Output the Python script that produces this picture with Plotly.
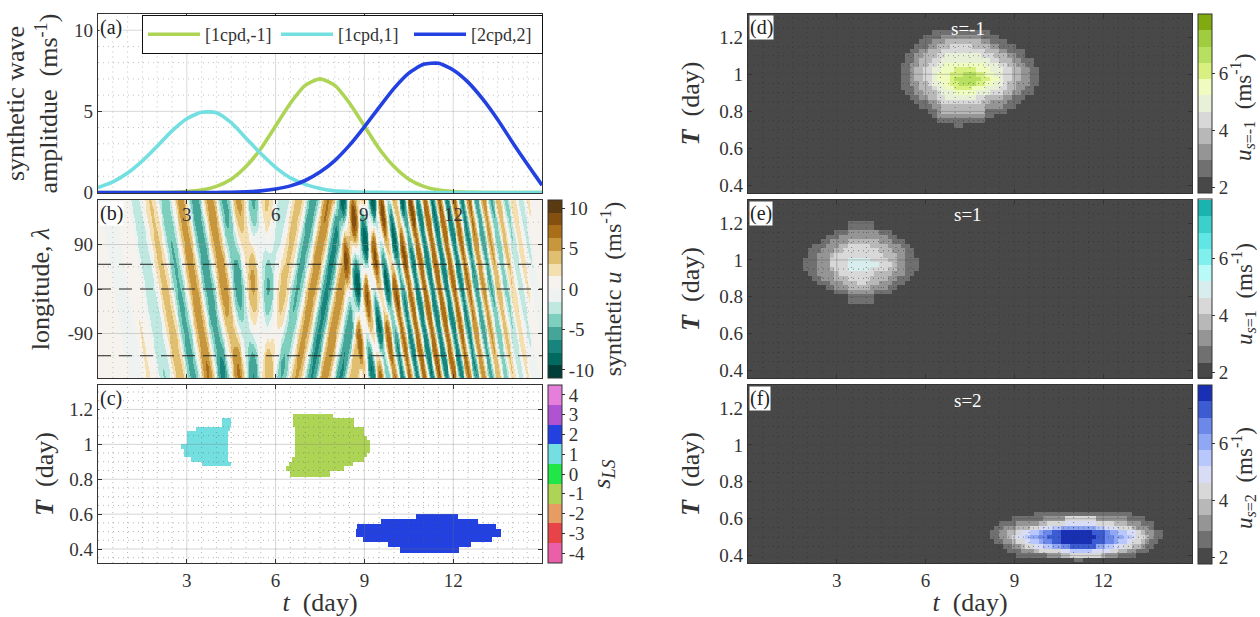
import numpy as np
import plotly.graph_objects as go

W, H = 1260, 617
SERIF = "Liberation Serif"

# ---------- panel (a): synthetic wave amplitude ----------
T_CYAN = [0, .5, 1, 1.5, 2, 2.5, 3, 3.5, 4, 4.5, 5, 5.5, 6, 6.5, 7, 7.5, 8, 8.5, 9, 10, 12, 15]
A_CYAN = [.3, .65, 1.2, 1.95, 2.85, 3.8, 4.55, 4.95, 4.92, 4.3, 3.35, 2.4, 1.55, .9, .5, .25, .1, .05, .02, 0, 0, 0]
T_GREEN = [0, 2.5, 3, 3.5, 4, 4.5, 5, 5.5, 6, 6.5, 7, 7.5, 8, 8.5, 9, 9.5, 10, 10.5, 11, 11.5, 12, 12.5, 13, 15]
A_GREEN = [0, .02, .06, .15, .38, .82, 1.6, 2.7, 4.1, 5.5, 6.6, 7, 6.6, 5.5, 4.1, 2.7, 1.6, .82, .38, .15, .06, .02, 0, 0]
T_BLUE = [0, 4, 4.5, 5, 5.5, 6, 6.5, 7, 7.5, 8, 8.5, 9, 9.5, 10, 10.5, 11, 11.5, 12, 12.5, 13, 13.5, 14, 14.5, 15]
A_BLUE = [0, 0, .02, .05, .1, .22, .41, .74, 1.26, 1.97, 2.92, 4.05, 5.25, 6.42, 7.36, 7.9, 7.96, 7.55, 6.8, 5.75, 4.5, 3.1, 1.75, .45]

# ---------- panel (b): stripes read as (t at lon=+180, t at lon=-180, amp there, amp there) ----------
BROWN_1 = [(-.27, .74, .8, 1), (.8, 1.7, 1.3, 1.7), (1.76, 2.77, 3.2, 4.3), (2.79, 3.73, 5.5, 6),
           (3.78, 4.76, 6, 5), (4.76, 5.75, 4.5, 2), (5.7, 6.7, 1.5, 0)]
TEAL_1 = [(.29, 1.3, 1, 1.3), (1.27, 2.26, 2.2, 3.2), (2.26, 3.22, 4.5, 5.5), (3.28, 4.23, 6, 6),
          (4.27, 5.25, 5.5, 3.8), (5.25, 6.24, 3.5, .8)]
BROWN_2 = [(4.74, 3.73, 1, .5), (5.7, 4.74, 2, 1.5), (6.77, 5.75, 4, 2.5), (7.78, 6.71, 6.5, 5),
           (8.74, 7.67, 6, 6), (9.7, 8.63, 3.5, 4.5), (10.65, 9.64, 1.5, 2)]
TEAL_2 = [(5.25, 4.23, 1.5, 1), (6.26, 5.25, 3, 2.5), (7.27, 6.2, 6, 4), (8.25, 7.22, 7, 6.5),
          (9.25, 8.2, 5, 6.5), (10.2, 9.19, 2.5, 3.5)]
BROWN_3 = [(8.04, 9.04, 1.85, 4.05), (8.54, 9.54, 2.9, 5.25),
           (9.04, 10.04, 4.05, 6.35), (9.54, 10.54, 5.25, 7.2), (10.03, 11.03, 6.35, 7.85), (10.54, 11.54, 7.2, 7.95),
           (11.04, 12.04, 7.85, 7.55), (11.53, 12.53, 7.95, 6.8), (12.03, 13.03, 7.55, 5.7), (12.53, 13.53, 6.8, 4.45),
           (13.03, 14.03, 5.7, 3.1), (13.52, 14.52, 4.45, 1.75), (14.02, 15.02, 3.1, .45), (14.53, 15.53, 1.75, 0)]
TEAL_3 = [(8.29, 9.29, 2.3, 4.6), (8.79, 9.79, 3.5, 5.8),
          (9.29, 10.29, 4.6, 6.8), (9.79, 10.79, 5.8, 7.5), (10.29, 11.29, 6.8, 8), (10.79, 11.79, 7.5, 7.8),
          (11.29, 12.29, 8, 7.2), (11.79, 12.79, 7.8, 6.3), (12.29, 13.29, 7.2, 5.1), (12.79, 13.79, 6.3, 3.8),
          (13.29, 14.29, 5.1, 2.4), (13.79, 14.79, 3.8, 1.1), (14.29, 15.29, 2.4, .2)]
DASHED_LON = [50, 0, -135]

# ---------- panel (c): blocks as (T top, T bottom, t start, t end) ----------
C_CYAN = [(1.15, 1.1, 4.2, 4.5), (1.1, 1.075, 3.3, 4.45), (1.075, 1.0, 3.0, 4.4), (1.0, .975, 2.8, 4.4),
          (.975, .925, 2.9, 4.4), (.925, .9, 3.15, 4.4), (.9, .875, 3.5, 4.5)]
C_GREEN = [(1.176, 1.15, 6.58, 7.95), (1.15, 1.1, 6.58, 8.63), (1.1, 1.05, 6.63, 9.0), (1.05, 1.025, 6.63, 9.1),
           (1.025, 1.0, 6.63, 9.2), (1.0, .975, 6.65, 9.22), (.975, .95, 6.65, 9.2), (.95, .925, 6.65, 9.08),
           (.925, .9, 6.55, 9.0), (.9, .875, 6.43, 8.6), (.875, .85, 6.33, 8.3), (.85, .815, 6.5, 7.85)]
C_BLUE = [(.60, .57, 10.75, 12.15), (.57, .545, 9.56, 12.83), (.545, .515, 8.75, 13.45), (.515, .47, 8.7, 13.6),
          (.47, .44, 8.95, 13.3), (.44, .41, 9.8, 12.6), (.41, .38, 10.2, 12.2)]
S_TICKS = [-4, -3, -2, -1, 0, 1, 2, 3, 4]

# ---------- panels (d,e,f): band index -> rows (T, t start, t end) ----------
D_BANDS = {
 1: [(1.225,6.3,8.1),(1.2,6.0,8.4),(1.175,5.85,8.7),(1.15,5.7,9.0),(1.125,5.55,9.3),(1.1,5.4,9.3),(1.075,5.4,9.6),
     (1.05,5.25,9.6),(1.025,5.25,9.75),(1.0,5.25,9.75),(.975,5.25,9.75),(.95,5.25,9.75),(.925,5.25,9.6),(.9,5.4,9.6),
     (.875,5.55,9.3),(.85,5.7,9.15),(.825,5.85,9.0),(.8,6.15,8.7),(.775,6.3,8.25),(.75,6.45,7.95),(.725,7.05,7.2)],
 2: [(1.2,6.6,7.8),(1.175,6.3,8.1),(1.15,6.15,8.4),(1.125,5.85,8.7),(1.1,5.7,9.0),(1.075,5.7,9.15),(1.05,5.55,9.3),
     (1.025,5.55,9.45),(1.0,5.55,9.45),(.975,5.55,9.45),(.95,5.55,9.45),(.925,5.7,9.3),(.9,5.7,9.15),(.875,5.85,8.85),
     (.85,6.15,8.7),(.825,6.3,8.55),(.8,6.45,7.95),(.775,6.45,7.95)],
 3: [(1.175,6.75,7.8),(1.15,6.45,8.1),(1.125,6.15,8.4),(1.1,6.0,8.7),(1.075,5.85,8.85),(1.05,5.85,9.0),(1.025,5.7,9.15),
     (1.0,5.7,9.15),(.975,5.7,9.15),(.95,5.85,9.0),(.925,5.85,9.0),(.9,6.0,8.85),(.875,6.15,8.55),(.85,6.45,8.1),
     (.825,6.6,7.95),(.8,6.6,7.95)],
 4: [(1.15,6.9,7.5),(1.125,6.6,7.95),(1.1,6.45,8.25),(1.075,6.3,8.4),(1.05,6.15,8.7),(1.025,6.0,8.85),(1.0,6.0,8.85),
     (.975,6.0,8.85),(.95,6.15,8.7),(.925,6.3,8.7),(.9,6.45,8.55),(.875,6.45,7.95),(.85,6.6,7.8)],
 5: [(1.1,6.75,7.8),(1.075,6.6,8.1),(1.05,6.45,8.4),(1.025,6.3,8.55),(1.0,6.3,8.55),(.975,6.3,8.55),(.95,6.3,8.55),
     (.925,6.45,8.4),(.9,6.6,8.1),(.875,6.75,7.65)],
 6: [(1.05,6.75,7.95),(1.025,6.6,8.1),(1.0,6.45,8.25),(.975,6.45,8.4),(.95,6.6,8.25),(.925,6.75,7.95),(.9,7.05,7.65)],
 7: [(1.025,7.05,7.65),(1.0,6.9,7.95),(.975,6.9,8.1),(.95,6.9,7.95),(.925,7.05,7.5)],
 8: [(1.0,7.35,7.65),(.975,7.05,7.8),(.95,7.2,7.65)],
}
E_BANDS = {
 1: [(1.2,3.45,4.2),(1.175,3.45,4.2),(1.15,3.0,4.75),(1.125,2.7,5.0),(1.1,2.55,5.25),(1.075,2.25,5.4),(1.05,2.1,5.55),
     (1.025,2.1,5.55),(1.0,1.95,5.7),(.975,1.95,5.7),(.95,1.95,5.7),(.925,2.1,5.55),(.9,2.25,5.4),(.875,2.4,5.25),
     (.85,2.7,4.95),(.825,3.0,4.8),(.8,3.45,4.2),(.775,3.45,4.2)],
 2: [(1.15,3.45,4.35),(1.125,3.1,4.65),(1.1,2.9,4.85),(1.075,2.65,5.1),(1.05,2.5,5.2),(1.025,2.4,5.25),(1.0,2.35,5.3),
     (.975,2.35,5.3),(.95,2.35,5.3),(.925,2.4,5.2),(.9,2.6,5.0),(.875,2.85,4.8),(.85,3.0,4.65),(.825,3.45,4.25)],
 3: [(1.1,3.45,4.3),(1.075,3.1,4.65),(1.05,2.95,4.8),(1.025,2.85,4.9),(1.0,2.8,4.95),(.975,2.8,4.95),(.95,2.8,4.95),
     (.925,2.95,4.85),(.9,3.05,4.65),(.875,3.3,4.4),(.85,3.45,4.1)],
 4: [(1.075,3.45,4.1),(1.05,3.3,4.3),(1.025,3.0,4.5),(1.0,2.9,4.7),(.975,2.9,4.8),(.95,2.95,4.65),(.925,3.15,4.25),
     (.9,3.45,4.1),(.875,3.7,3.95)],
 5: [(1.0,3.5,4.1),(.975,3.4,4.3),(.95,3.5,4.1)],
}
F_BANDS = {
 1: [(.625,9.7,12.85),(.6,8.95,13.4),(.575,8.6,13.6),(.55,8.45,13.7),(.525,8.3,13.9),(.5,8.3,13.9),(.475,8.45,13.75),
     (.45,8.7,13.65),(.425,8.9,13.5),(.4,9.15,13.05),(.375,11.05,11.2)],
 2: [(.6,10.0,12.8),(.575,9.1,13.2),(.55,8.75,13.45),(.525,8.6,13.6),(.5,8.55,13.65),(.475,8.7,13.55),(.45,8.95,13.4),
     (.425,9.3,13.0),(.4,10.2,12.4)],
 3: [(.575,9.9,12.7),(.55,9.2,13.1),(.525,8.85,13.4),(.5,8.8,13.5),(.475,8.95,13.35),(.45,9.25,13.15),(.425,9.7,12.7),
     (.4,10.7,12.0)],
 4: [(.6,10.8,11.7),(.575,10.15,12.35),(.55,9.55,12.9),(.525,9.1,13.2),(.5,9.0,13.3),(.475,9.2,13.15),(.45,9.5,12.95),
     (.425,9.9,12.5),(.4,11.0,11.9)],
 5: [(.575,10.8,11.7),(.55,9.9,12.45),(.525,9.35,13.0),(.5,9.2,13.1),(.475,9.4,12.95),(.45,9.8,12.6),(.425,10.6,12.15)],
 6: [(.55,10.3,12.0),(.525,9.6,12.7),(.5,9.4,12.85),(.475,9.6,12.7),(.45,10.1,12.3),(.425,10.9,11.6)],
 7: [(.55,10.6,11.7),(.525,9.85,12.45),(.5,9.65,12.6),(.475,9.85,12.45),(.45,10.4,12.0)],
 8: [(.525,10.1,12.2),(.5,9.85,12.35),(.475,10.05,12.25),(.45,10.6,11.75)],
 9: [(.525,10.35,12.0),(.5,10.2,12.05),(.475,10.3,12.0),(.45,10.9,11.7)],
 10: [(.525,10.6,11.6),(.5,10.6,11.65),(.475,10.65,11.6)],
}
BAND_LOW = 1.8
BAND_STEP = .57

# ---------- colours ----------
GREYS = ["#484848", "#707070", "#959595", "#b8b8b8", "#d8d8d8"]
D_COLORS = GREYS + ["#e8f0d8", "#f0fbc0", "#d8f080", "#b8e060", "#a0cc40", "#80aa10"]
E_COLORS = GREYS + ["#d8eeee", "#b8faf8", "#80f0ee", "#60e6e4", "#3cd0cc", "#1ab4b0"]
F_COLORS = GREYS + ["#d8dcf4", "#b8c8fc", "#90a8f4", "#6c88e8", "#3c5cd4", "#1a30b4"]
BRBG = ["#003f38", "#006a60", "#17857d", "#45a598", "#7fcfbf", "#bfe8e0", "#eef3f1",
        "#f6f3ee", "#f3dfb0", "#e0c070", "#c8963c", "#ab6e18", "#85500f", "#5a3a10"]
S_COLORS = ["#ea5fa8", "#e84448", "#e79c63", "#aed455", "#21e648", "#73dfe0", "#2241e0", "#b053d2", "#e67fdb"]
INK = "#333333"


def steps(cols):
    n = len(cols)
    out = []
    for i, c in enumerate(cols):
        out += [[i / n, c], [(i + 1) / n, c]]
    return out


def xdom(a, b):
    return [a / W, b / W]


def ydom(top, bottom):
    return [(H - bottom) / H, (H - top) / H]


def paper_y(px):
    return (H - px) / H


def grid_traces(xa, ya, xmaj, ymaj, xmin, ymin, xr, yr, cmaj, cmin):
    def seg(vals, rng, vertical):
        a, b = [], []
        for v in vals:
            a += [v, v, None]
            b += [rng[0], rng[1], None]
        return (a, b) if vertical else (b, a)
    res = []
    for vals_x, vals_y, col, dash, width in ((xmin, ymin, cmin, "1px,4px", 1), (xmaj, ymaj, cmaj, "solid", 1)):
        vx = seg(vals_x, yr, True)
        hy = seg(vals_y, xr, False)
        res.append(go.Scatter(x=vx[0] + hy[0], y=vx[1] + hy[1], mode="lines", xaxis=xa, yaxis=ya,
                              line=dict(color=col, width=width, dash=dash), hoverinfo="skip",
                              showlegend=False, connectgaps=False))
    return res


TICK_T = [3, 6, 9, 12]
TICK_PERIOD = [.4, .6, .8, 1, 1.2]
TICK_PERIOD_TEXT = ["0.4", "0.6", "0.8", "1", "1.2"]
MINOR_T = [x / 2 for x in range(1, 30) if x % 6]
MINOR_PERIOD = [x / 100 for x in range(35, 135, 5) if x % 20]
T_RANGE = [0, 15]

fig = go.Figure()

# panel a
fig.add_traces(grid_traces("x", "y", TICK_T, [5, 10], MINOR_T, [1, 2, 3, 4, 6, 7, 8, 9], T_RANGE, [0, 11],
                           "rgba(170,170,170,.45)", "rgba(130,130,130,.5)"))
for name, tt, aa, col in (("[1cpd,-1]", T_GREEN, A_GREEN, "#aed455"),
                          ("[1cpd,1]", T_CYAN, A_CYAN, "#73dfe0"),
                          ("[2cpd,2]", T_BLUE, A_BLUE, "#2241e0")):
    fig.add_trace(go.Scatter(x=tt, y=aa, name=name, mode="lines", xaxis="x", yaxis="y", cliponaxis=False,
                             line=dict(color=col, width=3.6, shape="spline", smoothing=.6)))

# panel b
t_b = np.arange(0, 15.02, .03)
lon_b = np.arange(-180, 181, 5.0)
field = np.zeros((lon_b.size, t_b.size))


def paint_stripes(table, sign, width):
    for t_top, t_bot, a_top, a_bot in table:
        frac = (180 - lon_b) / 360
        tc = (t_top + frac * (t_bot - t_top))[:, None]
        amp = (a_top + frac * (a_bot - a_top))[:, None]
        d = (t_b[None, :] - tc) / width
        field[:] += sign * amp * np.where(np.abs(d) < .5, np.abs(np.cos(np.pi * d)) ** .8, 0)


paint_stripes(BROWN_1, 1, .5)
paint_stripes(TEAL_1, -1, .5)
paint_stripes(BROWN_2, 1, .5)
paint_stripes(TEAL_2, -1, .5)
paint_stripes(BROWN_3, 1, .25)
paint_stripes(TEAL_3, -1, .25)

CB = dict(thickness=14, thicknessmode="pixels", lenmode="fraction", xanchor="left", yanchor="middle",
          xpad=0, ypad=0, outlinewidth=1, outlinecolor=INK, ticks="outside", ticklen=3, tickcolor=INK,
          tickfont=dict(family=SERIF, size=19, color=INK))
LEFT_CB_X, RIGHT_CB_X = 548 / W, 1198 / W


def cb_title(text, size=24):
    return dict(text=text, side="right", font=dict(family=SERIF, size=size, color=INK))


fig.add_trace(go.Heatmap(x=t_b, y=lon_b, z=field.tolist(), xaxis="x2", yaxis="y2", zmin=-11, zmax=11,
                         colorscale=steps(BRBG), hoverinfo="skip",
                         colorbar=dict(CB, x=LEFT_CB_X, y=paper_y(289), len=178 / H,
                                       tickvals=[-10, -5, 0, 5, 10], ticktext=["-10", "-5", "0", "5", "10"],
                                       title=cb_title("synthetic <i>u</i>  (ms<sup>-1</sup>)"))))
fig.add_traces(grid_traces("x2", "y2", [], [-90, 90], MINOR_T, [-135, -45, 45, 135], T_RANGE, [-180, 180],
                           "rgba(150,150,150,.4)", "rgba(110,110,110,.35)"))
for lon in DASHED_LON:
    fig.add_trace(go.Scatter(x=T_RANGE, y=[lon, lon], mode="lines", xaxis="x2", yaxis="y2", hoverinfo="skip",
                             showlegend=False, line=dict(color="#222222", width=1, dash="13px,8px")))

# panel c
t_c = np.arange(.025, 15, .05)
per_c = np.arange(.3225, 1.34, .005)
sls = np.full((per_c.size, t_c.size), np.nan)
for table, s in ((C_CYAN, 1), (C_GREEN, -1), (C_BLUE, 2)):
    for top, bot, t0, t1 in table:
        sls[np.ix_((per_c <= top) & (per_c >= bot), (t_c >= t0) & (t_c <= t1))] = s
fig.add_trace(go.Heatmap(x=t_c, y=per_c, z=[[None if np.isnan(v) else float(v) for v in r] for r in sls],
                         xaxis="x3", yaxis="y3", zmin=-4.5, zmax=4.5, colorscale=steps(S_COLORS), hoverinfo="skip",
                         colorbar=dict(CB, x=LEFT_CB_X, y=paper_y(474), len=178 / H,
                                       tickvals=S_TICKS, ticktext=[str(v) for v in S_TICKS],
                                       title=cb_title("<i>s<sub>LS</sub></i>", 26))))
fig.add_traces(grid_traces("x3", "y3", TICK_T, TICK_PERIOD, MINOR_T, MINOR_PERIOD, T_RANGE, [.32, 1.34],
                           "rgba(120,120,120,.32)", "rgba(90,90,90,.45)"))

# panels d, e, f
t_g = np.arange(0, 15.01, .15)
per_g = np.arange(.35, 1.351, .025)
for xa, ya, bands, cols, mid in (("x4", "y4", D_BANDS, D_COLORS, 103.5),
                                 ("x5", "y5", E_BANDS, E_COLORS, 289),
                                 ("x6", "y6", F_BANDS, F_COLORS, 474)):
    z = np.full((per_g.size, t_g.size), BAND_LOW + BAND_STEP / 2)
    for band in sorted(bands):
        for per, t0, t1 in bands[band]:
            j = int(np.argmin(np.abs(per_g - per)))
            z[j, (t_g >= t0 - .074) & (t_g <= t1 + .074)] = BAND_LOW + BAND_STEP * (band + .5)
    fig.add_trace(go.Heatmap(x=t_g, y=per_g, z=z.tolist(), xaxis=xa, yaxis=ya, zmin=BAND_LOW,
                             zmax=BAND_LOW + 11 * BAND_STEP, colorscale=steps(cols), hoverinfo="skip",
                             colorbar=dict(CB, x=RIGHT_CB_X, y=paper_y(mid), len=179 / H,
                                           tickvals=[2, 4, 6], ticktext=["2", "4", "6"])))
    fig.add_traces(grid_traces(xa, ya, TICK_T, TICK_PERIOD, MINOR_T, MINOR_PERIOD, T_RANGE, [.36, 1.325],
                               "rgba(70,70,70,.3)", "rgba(40,40,40,.5)"))


def axis(dom, rng, vals=None, text=None, **kw):
    d = dict(domain=dom, range=rng, showgrid=False, zeroline=False, showline=True, linecolor=INK, linewidth=1.2,
             mirror="ticks", ticks="inside", ticklen=4, tickcolor=INK, tickwidth=1,
             tickfont=dict(family=SERIF, size=19, color=INK), tickvals=vals, ticktext=text)
    d.update(kw)
    return d


TXT = [str(v) for v in TICK_T]


def ttl(text, standoff, size=22):
    return dict(text=text, standoff=standoff, font=dict(family=SERIF, size=size, color=INK))


L, R = xdom(98, 542), xdom(748, 1192)
rows = [ydom(14, 193), ydom(200, 378), ydom(385, 563)]
PER_T = ttl("<i><b>T</b></i>  (day)", 8, 26)
PER_T_R = ttl("<i><b>T</b></i>  (day)", 12, 26)
T_TITLE = ttl("<i>t</i>  (day)", 10, 26)
fig.update_layout(
    width=W, height=H, autosize=False, margin=dict(l=0, r=0, t=0, b=0, autoexpand=False),
    paper_bgcolor="white", plot_bgcolor="white", font=dict(family=SERIF, color=INK),
    showlegend=True,
    legend=dict(orientation="h", x=142 / W, y=paper_y(15), xanchor="left", yanchor="top", bgcolor="white",
                bordercolor="#111111", borderwidth=1, itemwidth=52, entrywidth=66, entrywidthmode="pixels",
                font=dict(family=SERIF, size=18, color=INK)),
    xaxis=axis(L, T_RANGE, TICK_T, anchor="y", showticklabels=False),
    yaxis=axis(rows[0], [-.03, 11], [0, 5, 10], ["0", "5", "10"], anchor="x",
               title=ttl("synthetic wave<br>amplitdue  (ms<sup>-1</sup>)", 8, 26)),
    xaxis2=axis(L, T_RANGE, TICK_T, anchor="y2", showticklabels=False),
    yaxis2=axis(rows[1], [-180, 180], [-90, 0, 90], ["-90", "0", "90"], anchor="x2",
                title=ttl("longitude, <i>λ</i>", 10, 26)),
    xaxis3=axis(L, T_RANGE, TICK_T, TXT, anchor="y3", title=T_TITLE),
    yaxis3=axis(rows[2], [.32, 1.34], TICK_PERIOD, TICK_PERIOD_TEXT, anchor="x3", title=PER_T),
    xaxis4=axis(R, T_RANGE, TICK_T, anchor="y4", showticklabels=False),
    yaxis4=axis(rows[0], [.36, 1.325], TICK_PERIOD, TICK_PERIOD_TEXT, anchor="x4", title=PER_T_R),
    xaxis5=axis(R, T_RANGE, TICK_T, anchor="y5", showticklabels=False),
    yaxis5=axis(rows[1], [.36, 1.325], TICK_PERIOD, TICK_PERIOD_TEXT, anchor="x5", title=PER_T_R),
    xaxis6=axis(R, T_RANGE, TICK_T, TXT, anchor="y6", title=T_TITLE),
    yaxis6=axis(rows[2], [.36, 1.325], TICK_PERIOD, TICK_PERIOD_TEXT, anchor="x6", title=PER_T_R),
)

notes = []
for lab, x0, top in (("(a)", 98, 14), ("(b)", 98, 200), ("(c)", 98, 385),
                     ("(d)", 748, 14), ("(e)", 748, 200), ("(f)", 748, 385)):
    notes.append(dict(text=lab, x=(x0 + 1) / W, y=paper_y(top + 1), xref="paper", yref="paper", xanchor="left",
                      yanchor="top", showarrow=False, bgcolor="white", borderpad=0, align="left",
                      font=dict(family=SERIF, size=20, color="#222222")))
for lab, top in (("s=-1", 14), ("s=1", 200), ("s=2", 385)):
    notes.append(dict(text=lab, x=968 / W, y=paper_y(top + 15), xref="paper", yref="paper", xanchor="center",
                      yanchor="middle", showarrow=False, font=dict(family=SERIF, size=19, color="white")))
for v in TICK_T:
    notes.append(dict(text=str(v), x=v, xref="x2", y=paper_y(215), yref="paper", xanchor="center", yanchor="middle",
                      showarrow=False, font=dict(family=SERIF, size=19, color=INK)))
for lab, cy in (("<i>u</i><sub><i>s</i>=-1</sub>  (ms<sup>-1</sup>)", 108),
                ("<i>u</i><sub><i>s</i>=1</sub>  (ms<sup>-1</sup>)", 294),
                ("<i>u</i><sub><i>s</i>=2</sub>  (ms<sup>-1</sup>)", 478)):
    notes.append(dict(text=lab, x=1243 / W, y=paper_y(cy), xref="paper", yref="paper", xanchor="center",
                      yanchor="middle", textangle=-90, showarrow=False, font=dict(family=SERIF, size=23, color=INK)))
fig.update_layout(annotations=notes)

fig.write_html("out.html", config=dict(displayModeBar=False),
               post_script="document.body.style.margin='0';document.body.style.overflow='hidden';")
